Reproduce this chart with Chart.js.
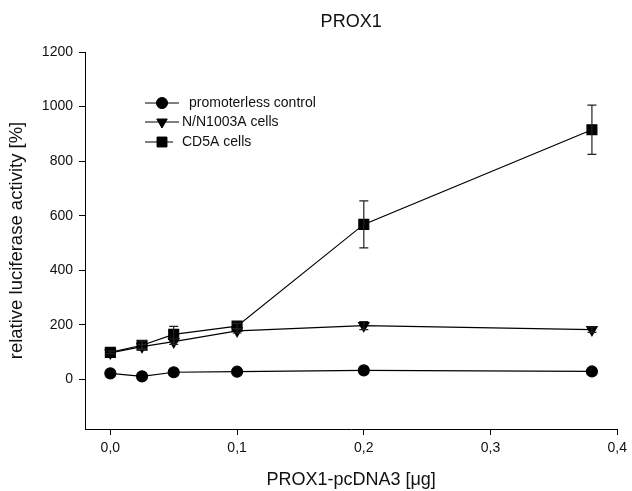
<!DOCTYPE html>
<html>
<head>
<meta charset="utf-8">
<script src="https://cdn.jsdelivr.net/npm/chart.js@4"></script>
<style>
  html,body{margin:0;padding:0;background:#fff;}
  #wrap{width:632px;height:491px;position:relative;}
</style>
</head>
<body>
<div id="wrap"><canvas id="c" width="632" height="491"></canvas></div>
<script>
// ---- data ----
const doses = [0, 0.025, 0.05, 0.1, 0.2, 0.38];
const controlVals = [22, 11, 26, 28, 33, 29];
const controlErr  = [0, 0, 0, 0, 0, 0];
const n1003Vals   = [97, 120, 138, 178, 197, 182];
const n1003Err    = [0, 8, 10, 8, 15, 10];
const cd5aVals    = [99, 125, 165, 195, 568, 915];
const cd5aErr     = [5, 16, 29, 10, 86, 90];
const seriesNames = ['promoterless control', 'N/N1003A cells', 'CD5A cells'];
const xTicks = [0, 0.1, 0.2, 0.3, 0.4];
const xTickLabels = ['0,0', '0,1', '0,2', '0,3', '0,4'];
const yTicks = [0, 200, 400, 600, 800, 1000, 1200];
const yTickLabels = ['0', '200', '400', '600', '800', '1000', '1200'];

const FONT = '"Liberation Sans", Arial, Helvetica, sans-serif';
const toPts = (vals) => doses.map((d, i) => ({x: d, y: vals[i]}));

const styles = [
  {pointStyle: 'circle', radius: 5.5, rotation: 0},
  {pointStyle: 'triangle', radius: 6, rotation: 180},
  {pointStyle: 'rect', radius: 7, rotation: 0}
];
const errs = [controlErr, n1003Err, cd5aErr];

const errorBarPlugin = {
  id: 'errorBars',
  afterDatasetsDraw(chart) {
    const ctx = chart.ctx, xs = chart.scales.x, ys = chart.scales.y;
    ctx.save();
    ctx.strokeStyle = '#222';
    ctx.lineWidth = 1.2;
    chart.data.datasets.forEach((ds, di) => {
      const e = errs[di];
      ds.data.forEach((p, i) => {
        if (!e[i]) return;
        const px = xs.getPixelForValue(p.x);
        const top = ys.getPixelForValue(p.y + e[i]);
        const bot = ys.getPixelForValue(p.y - e[i]);
        ctx.beginPath();
        ctx.moveTo(px, top); ctx.lineTo(px, bot);
        ctx.moveTo(px - 4.5, top); ctx.lineTo(px + 4.5, top);
        ctx.moveTo(px - 4.5, bot); ctx.lineTo(px + 4.5, bot);
        ctx.stroke();
      });
    });
    ctx.restore();
  }
};

const legendPlugin = {
  id: 'innerLegend',
  afterDraw(chart) {
    const ctx = chart.ctx;
    const rows = [103, 122, 142];
    const textX = [189, 182, 182];
    const lineEnd = [179, 179, 173];
    ctx.save();
    rows.forEach((y, i) => {
      ctx.strokeStyle = '#000';
      ctx.lineWidth = 1;
      ctx.beginPath();
      ctx.moveTo(145, y); ctx.lineTo(lineEnd[i], y);
      ctx.stroke();
      ctx.fillStyle = '#000';
      Chart.helpers.drawPoint(ctx, {
        pointStyle: styles[i].pointStyle,
        radius: styles[i].radius,
        rotation: styles[i].rotation,
        borderWidth: 1
      }, 162, y);
      ctx.fill();
      ctx.fillStyle = '#111';
      ctx.font = '14px ' + FONT;
      ctx.textBaseline = 'middle';
      ctx.textAlign = 'left';
      ctx.fillText(seriesNames[i], textX[i], y);
    });
    ctx.restore();
  }
};

const titlePlugin = {
  id: 'topTitle',
  afterDraw(chart) {
    const ctx = chart.ctx, a = chart.chartArea;
    ctx.save();
    ctx.fillStyle = '#111';
    ctx.font = '18px ' + FONT;
    ctx.textAlign = 'center';
    ctx.textBaseline = 'middle';
    ctx.fillText('PROX1', (a.left + a.right) / 2, 22);
    ctx.restore();
  }
};

const datasets = [controlVals, n1003Vals, cd5aVals].map((vals, i) => ({
  label: seriesNames[i],
  data: toPts(vals),
  showLine: true,
  borderColor: '#000',
  borderWidth: 1.2,
  backgroundColor: '#000',
  pointBackgroundColor: '#000',
  pointBorderColor: '#000',
  pointStyle: styles[i].pointStyle,
  pointRadius: styles[i].radius,
  pointRotation: styles[i].rotation,
  pointHoverRadius: styles[i].radius,
  tension: 0,
  clip: false
}));

new Chart(document.getElementById('c'), {
  type: 'scatter',
  data: {datasets},
  options: {
    responsive: false,
    animation: false,
    layout: {padding: {top: 52, right: 11, bottom: 0, left: 0}},
    plugins: {legend: {display: false}, title: {display: false}, tooltip: {enabled: false}},
    scales: {
      x: {
        type: 'linear', min: -0.02, max: 0.4,
        afterBuildTicks: (s) => { s.ticks = xTicks.map(v => ({value: v})); },
        afterFit: (s) => { s.height = 62; },
        grid: {display: true, drawOnChartArea: false, drawTicks: true, tickLength: 6, color: '#000', lineWidth: 1},
        border: {display: true, color: '#000', width: 1},
        ticks: {
          color: '#111', font: {family: FONT, size: 14}, padding: 5,
          maxRotation: 0, autoSkip: false,
          callback: (v) => { const k = xTicks.indexOf(v); return k >= 0 ? xTickLabels[k] : ''; }
        },
        title: {display: true, text: 'PROX1-pcDNA3 [\u03bcg]', color: '#111', font: {family: FONT, size: 18}, padding: {top: 0, bottom: 0}}
      },
      y: {
        type: 'linear', min: -182, max: 1200,
        afterBuildTicks: (s) => { s.ticks = yTicks.map(v => ({value: v})); },
        afterFit: (s) => { s.width = 85; },
        grid: {display: true, drawOnChartArea: false, drawTicks: true, tickLength: 6, color: '#000', lineWidth: 1},
        border: {display: true, color: '#000', width: 1},
        ticks: {
          color: '#111', font: {family: FONT, size: 14}, padding: 6, autoSkip: false,
          callback: (v) => { const k = yTicks.indexOf(v); return k >= 0 ? yTickLabels[k] : ''; }
        },
        title: {display: true, text: 'relative luciferase activity [%]', color: '#111', font: {family: FONT, size: 18.5}, padding: {top: 6, bottom: 0}}
      }
    }
  },
  plugins: [errorBarPlugin, legendPlugin, titlePlugin]
});
</script>
</body>
</html>
